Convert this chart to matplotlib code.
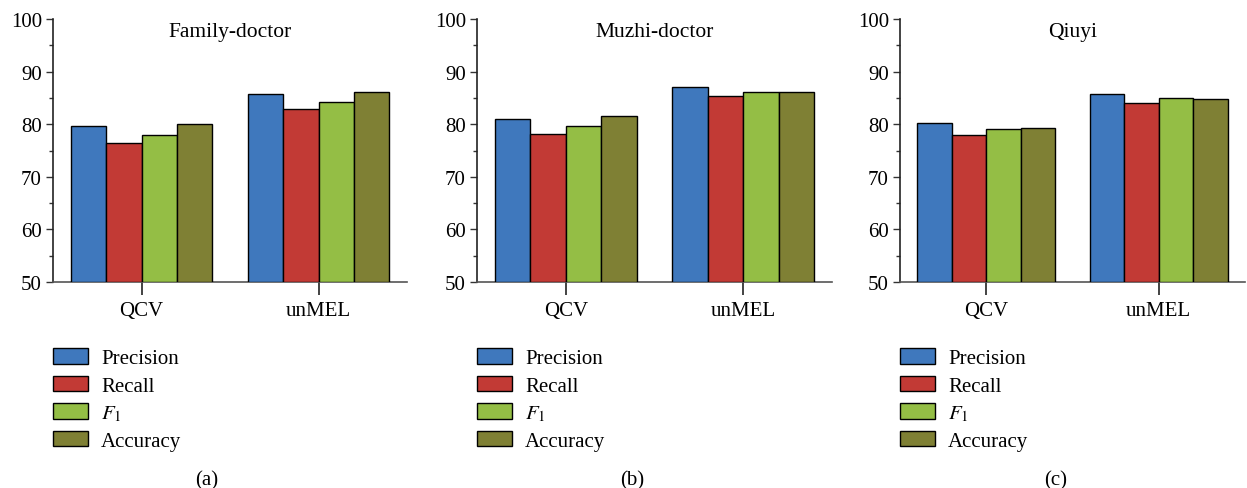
import numpy as np
import matplotlib.pyplot as plt
from matplotlib.ticker import MultipleLocator

plt.rcParams['font.family'] = 'Liberation Serif'
plt.rcParams['mathtext.fontset'] = 'stix'

groups = ['QCV', 'unMEL']
metrics = ['Precision', 'Recall', r'$F_1$', 'Accuracy']
colors = ['#3F78BD', '#C23A35', '#94BE45', '#7F8034']

titles = ['Family-doctor', 'Muzhi-doctor', 'Qiuyi']
panel_tags = ['(a)', '(b)', '(c)']

# rows: metric, columns: QCV / unMEL
family_doctor = [[79.6, 85.8], [76.5, 82.9], [78.0, 84.3], [80.1, 86.1]]
muzhi_doctor = [[81.0, 87.15], [78.2, 85.4], [79.6, 86.2], [81.5, 86.15]]
qiuyi = [[80.2, 85.8], [78.0, 84.1], [79.1, 84.9], [79.2, 84.8]]
datasets = [family_doctor, muzhi_doctor, qiuyi]

W, H = 1247, 489
fig = plt.figure(figsize=(W / 100, H / 100), dpi=100)

# axes boxes in pixels: left, right
boxes = [(53, 407), (477, 832), (900, 1245)]
top, bottom = 20, 283
tag_x = [207, 632, 1056]

x = np.arange(len(groups))
bw = 0.2
for k, (l, r) in enumerate(boxes):
    ax = fig.add_axes([l / W, 1 - bottom / H, (r - l) / W, (bottom - top) / H])
    for i, vals in enumerate(datasets[k]):
        ax.bar(x + (i - 1.5) * bw, np.array(vals) - 50, bw, bottom=50,
               color=colors[i], edgecolor='black', linewidth=1.0,
               label=metrics[i], zorder=3)
    ax.set_xlim(-0.5, 1.5)
    ax.set_ylim(50, 100)
    ax.yaxis.set_major_locator(MultipleLocator(10))
    ax.yaxis.set_minor_locator(MultipleLocator(5))
    ax.set_xticks(x)
    ax.set_xticklabels(groups, fontsize=15)
    ax.tick_params(axis='y', labelsize=15, direction='out', length=5,
                   width=1, color='#333333', pad=3)
    ax.tick_params(axis='y', which='minor', length=3, width=1, color='#333333')
    ax.tick_params(axis='x', direction='out', length=9, width=1.2,
                   color='#222222', pad=5)
    for s in ['top', 'right']:
        ax.spines[s].set_visible(False)
    ax.spines['left'].set_color('#222222')
    ax.spines['left'].set_linewidth(1.2)
    ax.spines['bottom'].set_color('#555555')
    ax.spines['bottom'].set_linewidth(1.2)
    ax.text(0.5, 0.99, titles[k], transform=ax.transAxes, ha='center',
            va='top', fontsize=15.5)

    ax.legend(loc='upper left', bbox_to_anchor=(l / W, 1 - 349 / H),
              bbox_transform=fig.transFigure, frameon=False, fontsize=15,
              handlelength=1.68, handleheight=0.77, labelspacing=0.36,
              handletextpad=0.63, borderpad=0, borderaxespad=0)
    fig.text(tag_x[k] / W, 1 - 481 / H, panel_tags[k], ha='center',
             va='center', fontsize=15)

fig.savefig('out.png', dpi=100)
